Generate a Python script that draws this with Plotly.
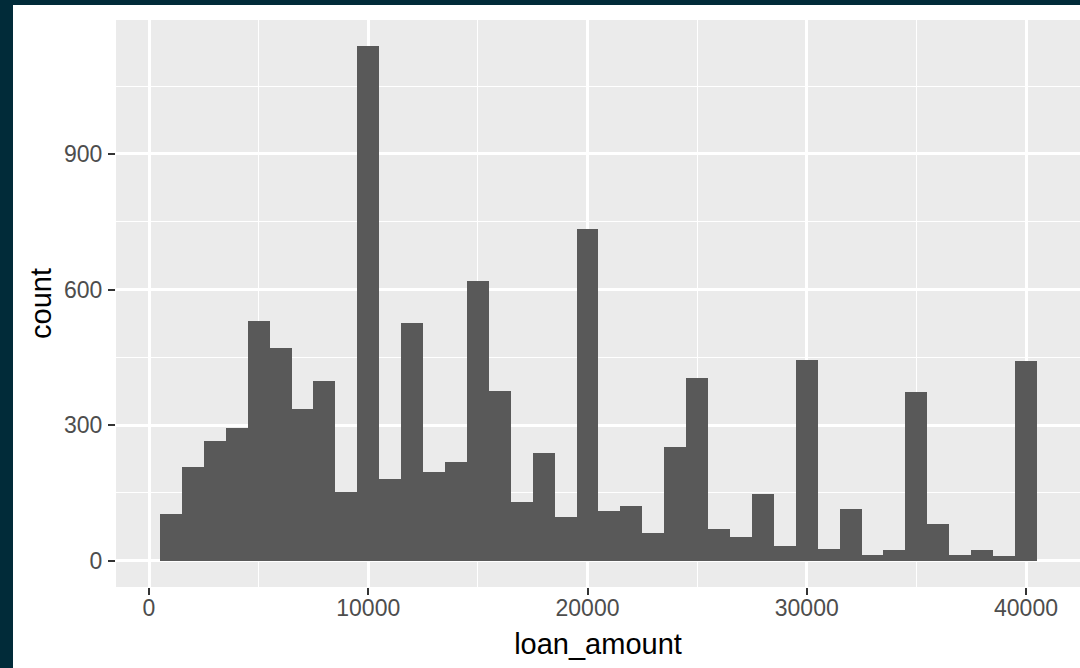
import plotly.graph_objects as go

# histogram bins (centres, binwidth 1000) and counts
bin_centers = [1000 * k for k in range(1, 41)]
counts = [103, 206, 265, 294, 530, 470, 335, 397, 151, 1140,
          181, 525, 195, 218, 619, 375, 130, 237, 97, 734,
          110, 120, 60, 252, 405, 69, 52, 148, 32, 444,
          26, 114, 13, 24, 373, 80, 13, 24, 9, 442]
x_ticks = [0, 10000, 20000, 30000, 40000]
y_ticks = [0, 300, 600, 900]

W, H = 1080, 668
ML, MR, MT, MB = 116, 0, 20, 81
PW, PH = W - ML - MR, H - MT - MB


def px_to_paper_x(px):
    return (px - ML) / PW


def px_to_paper_y(py):
    return (H - MB - py) / PH


fig = go.Figure(go.Bar(
    x=bin_centers, y=counts, width=1000,
    marker=dict(color="#595959", line=dict(width=0)),
    showlegend=False,
))

tickfont = dict(family="Liberation Sans, Arial, sans-serif", size=23, color="#4D4D4D")
titlefont = dict(family="Liberation Sans, Arial, sans-serif", size=29, color="#000000")

fig.update_layout(
    width=W, height=H,
    margin=dict(l=ML, r=MR, t=MT, b=MB, autoexpand=False),
    paper_bgcolor="#FFFFFF",
    plot_bgcolor="#EBEBEB",
    bargap=0,
    xaxis=dict(
        range=[-1505, 42463],
        tickmode="array", tickvals=x_ticks, ticktext=[str(v) for v in x_ticks],
        showgrid=True, gridcolor="#FFFFFF", gridwidth=2.7,
        minor=dict(tickmode="array", tickvals=[5000, 15000, 25000, 35000],
                   showgrid=True, gridcolor="#FFFFFF", gridwidth=1.4, ticks=""),
        zeroline=False, showline=False,
        ticks="outside", ticklen=7, tickwidth=2, tickcolor="#333333",
        tickfont=tickfont, ticklabelstandoff=-7,
        title=dict(text="loan_amount", font=titlefont, standoff=14),
        automargin=False,
    ),
    yaxis=dict(
        range=[-58.6, 1196.6],
        tickmode="array", tickvals=y_ticks, ticktext=[str(v) for v in y_ticks],
        showgrid=True, gridcolor="#FFFFFF", gridwidth=2.7,
        minor=dict(tickmode="array", tickvals=[150, 450, 750, 1050],
                   showgrid=True, gridcolor="#FFFFFF", gridwidth=1.4, ticks=""),
        zeroline=False, showline=False,
        ticks="outside", ticklen=7, tickwidth=2, tickcolor="#333333",
        tickfont=tickfont, ticklabelstandoff=1,
        title=dict(text="count", font=titlefont, standoff=3),
        automargin=False,
    ),
)

# dark outer frame on left and top edges
dark = "#012B39"
fig.add_shape(type="rect", xref="paper", yref="paper",
              x0=px_to_paper_x(-2), x1=px_to_paper_x(13),
              y0=px_to_paper_y(H + 2), y1=px_to_paper_y(-2),
              fillcolor=dark, line=dict(width=0), layer="above")
fig.add_shape(type="rect", xref="paper", yref="paper",
              x0=px_to_paper_x(-2), x1=px_to_paper_x(W + 2),
              y0=px_to_paper_y(5), y1=px_to_paper_y(-2),
              fillcolor=dark, line=dict(width=0), layer="above")

fig.write_html("out.html", config={"displayModeBar": False},
               post_script="document.body.style.margin='0';")
